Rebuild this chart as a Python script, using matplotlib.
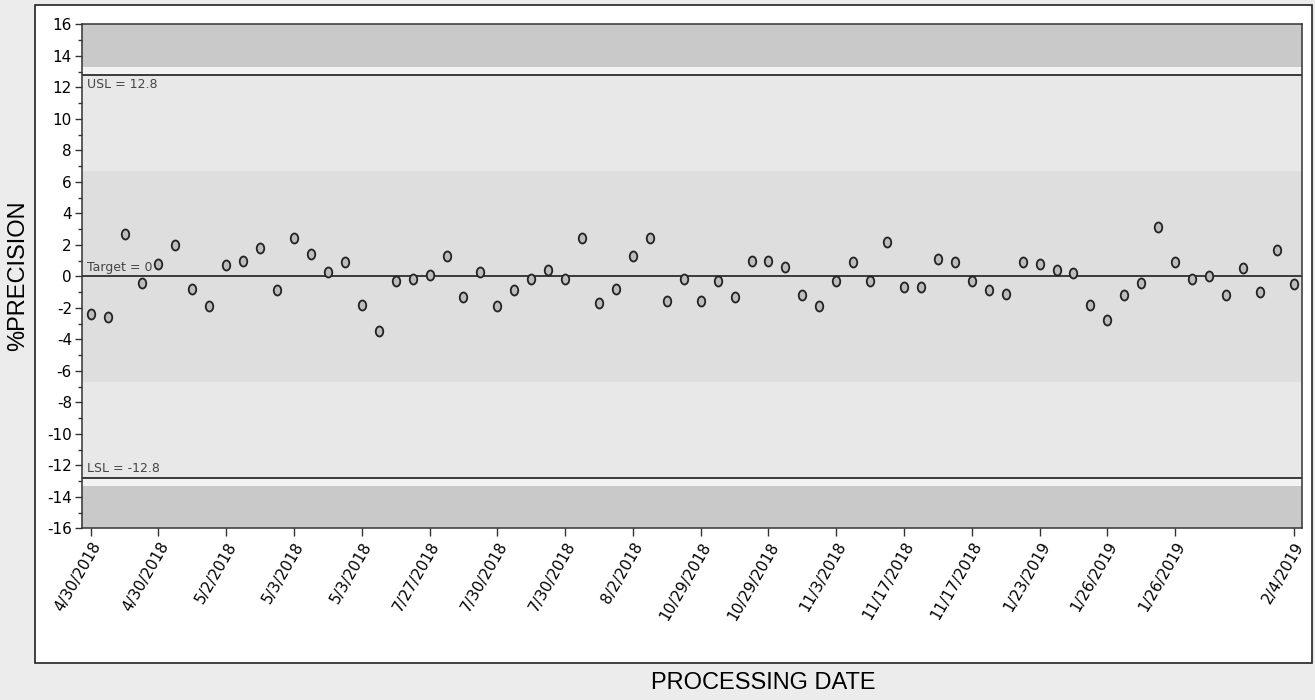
import matplotlib
matplotlib.use("Agg")
import matplotlib.pyplot as plt
from matplotlib.patches import Rectangle
from matplotlib.path import Path
from matplotlib.transforms import blended_transform_factory

plt.rcParams["axes.unicode_minus"] = False

# %PRECISION per processed sample, in run order
precision = [-2.4, -2.6, 2.7, -0.4, 0.8, 2.0, -0.8, -1.9, 0.7, 1.0,
             1.8, -0.9, 2.4, 1.4, 0.3, 0.9, -1.8, -3.5, -0.3, -0.2,
             0.1, 1.3, -1.3, 0.3, -1.9, -0.9, -0.2, 0.4, -0.2, 2.4,
             -1.7, -0.8, 1.3, 2.4, -1.6, -0.2, -1.6, -0.3, -1.3, 1.0,
             1.0, 0.6, -1.2, -1.9, -0.3, 0.9, -0.3, 2.2, -0.7, -0.7,
             1.1, 0.9, -0.3, -0.9, -1.1, 0.9, 0.8, 0.4, 0.2, -1.8,
             -2.8, -1.2, -0.4, 3.1, 0.9, -0.2, 0.0, -1.2, 0.5, -1.0,
             1.7, -0.5]

tick_idx = [0, 4, 8, 12, 16, 20, 24, 28, 32, 36, 40, 44, 48, 52, 56, 60, 64, 71]
tick_dates = ["4/30/2018", "4/30/2018", "5/2/2018", "5/3/2018", "5/3/2018",
              "7/27/2018", "7/30/2018", "7/30/2018", "8/2/2018", "10/29/2018",
              "10/29/2018", "11/3/2018", "11/17/2018", "11/17/2018", "1/23/2019",
              "1/26/2019", "1/26/2019", "2/4/2019"]

usl, lsl, target = 12.8, -12.8, 0

W, H = 1315, 700
fig = plt.figure(figsize=(W / 100, H / 100), dpi=100, facecolor="#ececec")

# white report frame
fig.add_artist(Rectangle((35 / W, 1 - 663 / H), (1312 - 35) / W, (663 - 5) / H,
                         transform=fig.transFigure, facecolor="white",
                         edgecolor="#222222", lw=1.2, zorder=-1))

ax = fig.add_axes([81.7 / W, 1 - 528.3 / H, (1301.7 - 81.7) / W, (528.3 - 24.3) / H])
ax.set_facecolor("#e8e8e8")
ax.set_xlim(-0.53, 71.47)
ax.set_ylim(-16, 16)

# shaded zones
ax.axhspan(-6.7, 6.7, color="#dedede", lw=0, zorder=0)
ax.axhspan(13.3, 16, color="#c9c9c9", lw=0, zorder=0)
ax.axhspan(usl, 13.3, color="#f3f3f3", lw=0, zorder=0)
ax.axhspan(-16, -13.3, color="#c9c9c9", lw=0, zorder=0)
ax.axhspan(-13.3, lsl, color="#f3f3f3", lw=0, zorder=0)

for yv in (usl, lsl, target):
    ax.axhline(yv, color="#3a3a3a", lw=1.4, zorder=1)

tr = blended_transform_factory(ax.transAxes, ax.transData)
ax.text(0.004, usl - 0.2, "USL = 12.8", transform=tr, va="top", ha="left",
        fontsize=9, color="#444444")
ax.text(0.004, lsl + 0.2, "LSL = -12.8", transform=tr, va="bottom", ha="left",
        fontsize=9, color="#444444")
ax.text(0.004, target + 0.15, "Target = 0", transform=tr, va="bottom", ha="left",
        fontsize=9, color="#444444")

# slightly tall oval marker like the scan
circ = Path.unit_circle()
oval = Path(circ.vertices * [0.75, 1.0], circ.codes)
ax.plot(range(len(precision)), precision, linestyle="none", marker=oval,
        markersize=7.2, markerfacecolor="#bdbdbd", markeredgecolor="#222222",
        markeredgewidth=1.3, zorder=3)

ax.set_yticks(range(-16, 17, 2))
ax.set_yticks(range(-15, 16, 2), minor=True)
ax.set_xticks(tick_idx)
ax.set_xticklabels(tick_dates, rotation=60, ha="right", rotation_mode="anchor")
ax.tick_params(axis="both", which="major", direction="out", length=5, width=1,
               color="#333333", labelsize=11, pad=2)
ax.tick_params(axis="y", which="minor", direction="out", length=3, width=1,
               color="#333333")
ax.tick_params(axis="x", length=6)
for s in ax.spines.values():
    s.set_color("#333333")
    s.set_linewidth(1.1)

lab_font = ["Liberation Sans", "DejaVu Sans"]
fig.text(18 / W, 1 - 276 / H, "%PRECISION", rotation=90, ha="center", va="center",
         fontsize=17, family=lab_font)
fig.text(763 / W, 1 - 683 / H, "PROCESSING DATE", ha="center", va="center",
         fontsize=17, family=lab_font)

fig.savefig("out.png", dpi=100, facecolor=fig.get_facecolor())
